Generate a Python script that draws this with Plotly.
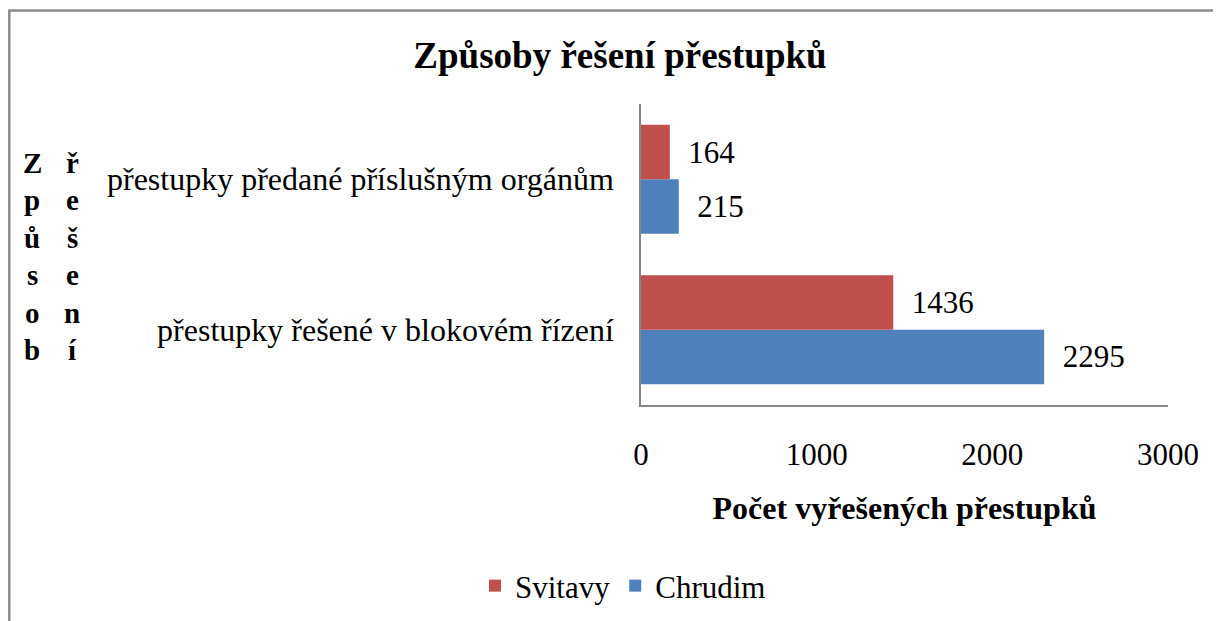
import plotly.graph_objects as go

categories = ["přestupky řešené v blokovém řízení", "přestupky předané příslušným orgánům"]
svitavy = [1436, 164]
chrudim = [2295, 215]
series_names = ["Svitavy", "Chrudim"]
x_ticks = [0, 1000, 2000, 3000]
title_text = "Způsoby řešení přestupků"
x_title = "Počet vyřešených přestupků"
y_title_col1 = ["Z", "p", "ů", "s", "o", "b"]
y_title_col2 = ["ř", "e", "š", "e", "n", "í"]

FONT = "Liberation Serif, Times New Roman, serif"
RED = "#C0504D"
BLUE = "#4F81BD"

W, H = 1221, 621
OFF = 8  # page body margin
# plot area in page coordinates
PX0, PX1, PY0, PY1 = 641, 1168, 104, 405
L = PX0 - OFF
R = W - (PX1 - OFF)
T = PY0 - OFF
B = H - (PY1 - OFF)
pw, ph = PX1 - PX0, PY1 - PY0

def px_x(p):
    return (p - PX0) / pw

def px_y(p):
    return (PY1 - p) / ph

fig = go.Figure()
fig.add_trace(go.Bar(
    y=categories, x=chrudim, name=series_names[1], orientation="h",
    marker=dict(color=BLUE, line=dict(width=0)),
    texttemplate="\u00a0\u00a0%{x}", textposition="outside",
    textfont=dict(family=FONT, size=31, color="black"),
    cliponaxis=False, legendrank=2,
))
fig.add_trace(go.Bar(
    y=categories, x=svitavy, name=series_names[0], orientation="h",
    marker=dict(color=RED, line=dict(width=0)),
    texttemplate="\u00a0\u00a0%{x}", textposition="outside",
    textfont=dict(family=FONT, size=31, color="black"),
    cliponaxis=False, legendrank=1,
))

annotations = []
row0, step = 163, 37.4
for i, (a, b) in enumerate(zip(y_title_col1, y_title_col2)):
    for ch, xp in ((a, 32), (b, 72)):
        annotations.append(dict(
            text=ch, xref="paper", yref="paper",
            x=px_x(xp), y=px_y(row0 + i * step),
            xanchor="center", yanchor="middle", showarrow=False,
            font=dict(family=FONT, size=29, color="black", weight="bold"),
        ))

fig.update_layout(
    width=W, height=H,
    margin=dict(l=L, r=R, t=T, b=B, autoexpand=False),
    paper_bgcolor="white", plot_bgcolor="white",
    barmode="group", bargap=0.276, bargroupgap=0,
    font=dict(family=FONT, color="black"),
    title=dict(text=title_text, x=(620 - OFF) / W, xanchor="center",
               y=1 - (55 - OFF) / H, yanchor="middle",
               font=dict(family=FONT, size=37, color="black", weight="bold")),
    xaxis=dict(range=[0, 3000], tickvals=x_ticks, showgrid=False, zeroline=False,
               showline=True, linecolor="#868686", linewidth=1.5, ticks="",
               tickfont=dict(family=FONT, size=31, color="black"),
               ticklabelstandoff=21,
               title=dict(text=x_title, standoff=26,
                          font=dict(family=FONT, size=32, color="black", weight="bold"))),
    yaxis=dict(showgrid=False, zeroline=False, showline=True, linecolor="#868686",
               linewidth=1.5, ticks="", ticklabelstandoff=19,
               tickfont=dict(family=FONT, size=32, color="black")),
    showlegend=True,
    legend=dict(orientation="h", x=px_x(623), xanchor="center", y=px_y(586), yanchor="middle",
                font=dict(family=FONT, size=31, color="black"), traceorder="normal",
                itemsizing="constant"),
    annotations=annotations,
    shapes=[dict(type="rect", xref="paper", yref="paper",
                 x0=px_x(OFF + 1.3), x1=px_x(W + 30), y0=px_y(H + 30), y1=px_y(10.5),
                 line=dict(color="#8c8c8c", width=2.5), fillcolor="rgba(0,0,0,0)", layer="below")],
)

fig.write_html("out.html")
